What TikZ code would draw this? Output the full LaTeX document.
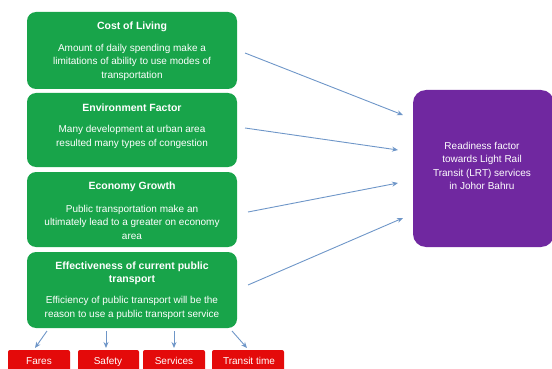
\documentclass[tikz,border=0pt]{standalone}
\usepackage{fontspec}
\setmainfont{Liberation Sans}
\usetikzlibrary{arrows.meta}
\definecolor{gbox}{RGB}{24,164,74}
\definecolor{pbox}{RGB}{112,40,160}
\definecolor{rbox}{RGB}{228,10,10}
\definecolor{arr}{RGB}{110,150,200}
\tikzset{
  conn/.style={draw=arr, line width=0.9pt, -{Stealth[length=6pt,width=5pt]}},
  ttlmulti/.style={font=\bfseries\fontsize{10.5}{13.3}\selectfont, text=white, align=center, inner sep=0pt},
  ttl/.style={ttlmulti, text height=0.72em, text depth=0.22em},
  bdy/.style={font=\fontsize{10}{13.5}\selectfont, text=white, align=center, inner sep=0pt},
  rtxt/.style={text=white, font=\fontsize{10}{12}\selectfont, inner sep=0pt, text height=0.72em, text depth=0.22em}
}
\begin{document}
\begin{tikzpicture}[x=1pt,y=1pt]
\useasboundingbox (0,0) rectangle (552,-369);
\clip (0,0) rectangle (552,-369);
% green boxes
\fill[gbox, rounded corners=9pt] (27,-12) rectangle (237,-89);
\fill[gbox, rounded corners=9pt] (27,-93) rectangle (237,-167);
\fill[gbox, rounded corners=9pt] (27,-172) rectangle (237,-247);
\fill[gbox, rounded corners=9pt] (27,-252) rectangle (237,-328);
\node[ttl] (t1) at (132,-27) {Cost of Living};
\node[bdy] (b1) at (132,-62) {Amount of daily spending make a\\limitations of ability to use modes of\\transportation};
\node[ttl] (t2) at (132,-109) {Environment Factor};
\node[bdy] (b2) at (132,-137) {Many development at urban area\\resulted many types of congestion};
\node[ttl] (t3) at (132,-187) {Economy Growth};
\node[bdy] (b3) at (132,-222) {Public transportation make an\\ultimately lead to a greater on economy\\area};
\node[ttlmulti] (t4) at (132,-273) {Effectiveness of current public\\transport};
\node[bdy] (b4) at (132,-308) {Efficiency of public transport will be the\\reason to use a public transport service};
% coordinates for connector ends
\coordinate (g1) at (245,-53);
\coordinate (g2) at (245,-128);
\coordinate (g3) at (248,-212);
\coordinate (g4) at (248,-285);
\coordinate (p1) at (403,-115);
\coordinate (p2) at (398,-150);
\coordinate (p3) at (398,-183);
\coordinate (p4) at (403,-218);
% purple box
\fill[pbox, rounded corners=13pt] (413,-90) rectangle (554,-247);
\node[font=\fontsize{10}{13.3}\selectfont, text=white, align=center, inner sep=0pt] (pt) at (482,-166) {Readiness factor\\towards Light Rail\\Transit (LRT) services\\in Johor Bahru};
% red boxes
\fill[rbox, rounded corners=2pt] (8,-350) rectangle (70,-376);
\fill[rbox, rounded corners=2pt] (78,-350) rectangle (139,-376);
\fill[rbox, rounded corners=2pt] (143,-350) rectangle (205,-376);
\fill[rbox, rounded corners=2pt] (212,-350) rectangle (284,-376);
\node[rtxt] (r1) at (39,-362) {Fares};
\node[rtxt] (r2) at (108,-362) {Safety};
\node[rtxt] (r3) at (174,-362) {Services};
\node[rtxt] (r4) at (249,-362) {Transit time};
\coordinate (s1) at (47,-331);
\coordinate (s2) at (106,-331);
\coordinate (s3) at (174,-331);
\coordinate (s4) at (232,-331);
\coordinate (e1) at (35,-348);
\coordinate (e2) at (106,-348);
\coordinate (e3) at (174,-348);
\coordinate (e4) at (247,-348);
% connectors
\draw[conn] (g1) -- (p1);
\draw[conn] (g2) -- (p2);
\draw[conn] (g3) -- (p3);
\draw[conn] (g4) -- (p4);
\draw[conn] (s1) -- (e1);
\draw[conn] (s2) -- (e2);
\draw[conn] (s3) -- (e3);
\draw[conn] (s4) -- (e4);
\end{tikzpicture}
\end{document}
